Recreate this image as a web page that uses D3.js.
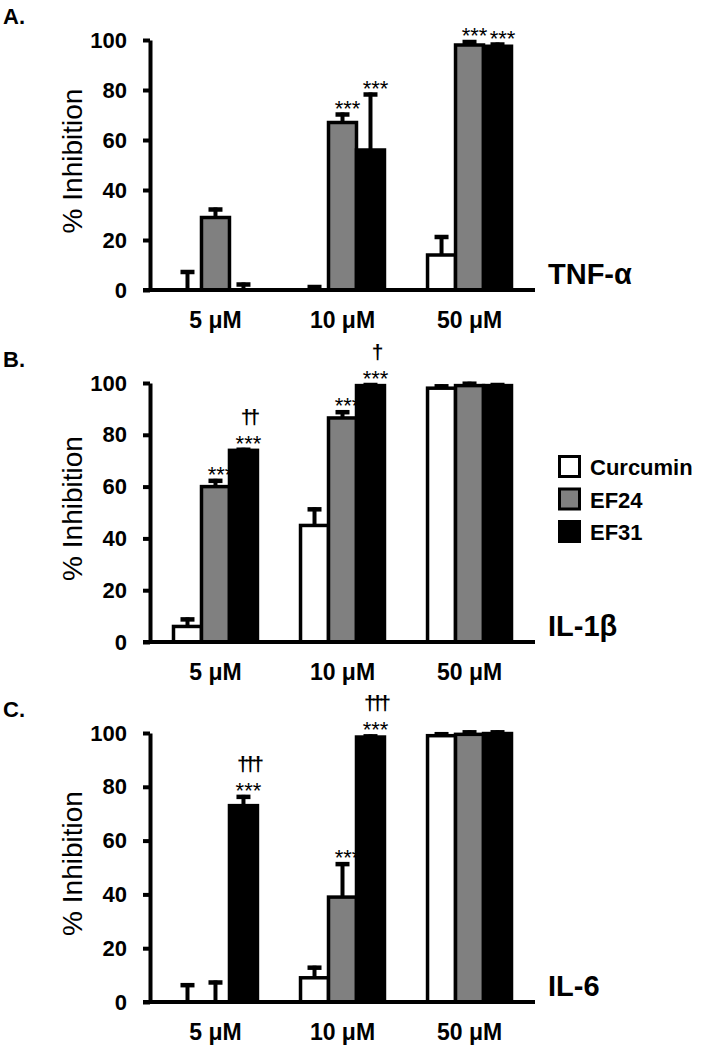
<!DOCTYPE html>
<html>
<head>
<meta charset="utf-8">
<script src="https://cdn.jsdelivr.net/npm/d3@7"></script>
<style>
  html, body { margin: 0; padding: 0; background: #fff; }
  svg { display: block; font-family: "Liberation Sans", Arial, sans-serif; }
</style>
</head>
<body>
<div id="chart"></div>
<script>
// categories
const doses = ['5 μM', '10 μM', '50 μM'];
const compounds = ['Curcumin', 'EF24', 'EF31'];
const yTicks = [0, 20, 40, 60, 80, 100];

// % inhibition, per dose: [Curcumin, EF24, EF31]
const tnfMean = [[0, 29, 0], [0, 67, 56], [14, 98, 97.5]];
const tnfErr = [[8, 4, 3], [2, 4, 23], [8, 2, 1.5]];
const il1Mean = [[6, 60, 74], [45, 86.5, 99], [98, 99, 99]];
const il1Err = [[3.5, 3, 1], [7, 3, 1], [1.5, 1.5, 1]];
const il6Mean = [[0, 0, 73], [9, 39, 98.5], [99, 99.5, 99.8]];
const il6Err = [[7, 8, 4], [4.5, 13, 1], [1.3, 1.5, 1.2]];

// significance marks: [dose, compound, stars, daggers]
const tnfMarks = [['10 μM', 'EF24', '***', ''], ['10 μM', 'EF31', '***', ''],
                  ['50 μM', 'EF24', '***', ''], ['50 μM', 'EF31', '***', '']];
const il1Marks = [['5 μM', 'EF24', '***', ''], ['5 μM', 'EF31', '***', '††'],
                  ['10 μM', 'EF24', '***', ''], ['10 μM', 'EF31', '***', '†']];
const il6Marks = [['5 μM', 'EF31', '***', '†††'], ['10 μM', 'EF24', '***', ''],
                  ['10 μM', 'EF31', '***', '†††']];

const width = 707;
const height = 1050;
const fills = { Curcumin: '#ffffff', EF24: '#808080', EF31: '#000000' };

const panels = [
  { letter: 'A.', name: 'TNF-α', mean: tnfMean, err: tnfErr, marks: tnfMarks, top: 40, bottom: 290 },
  { letter: 'B.', name: 'IL-1β', mean: il1Mean, err: il1Err, marks: il1Marks, top: 383, bottom: 642 },
  { letter: 'C.', name: 'IL-6', mean: il6Mean, err: il6Err, marks: il6Marks, top: 733, bottom: 1002 },
];

const axisLeftX = 150;
const axisRightX = 535;

const svg = d3.select('#chart')
  .append('svg')
  .attr('width', width)
  .attr('height', height)
  .attr('viewBox', `0 0 ${width} ${height}`)
  .style('background', '#fff');

const x0 = d3.scaleBand().domain(doses).range([axisLeftX, axisRightX])
  .paddingInner(0.339).paddingOuter(0.185);
const x1 = d3.scaleBand().domain(compounds).range([0, x0.bandwidth()]);

panels.forEach((p) => {
  const y = d3.scaleLinear().domain([0, 100]).range([p.bottom, p.top]);
  const g = svg.append('g');

  /* Panel letter */
  g.append('text')
    .attr('x', 3)
    .attr('y', p.top - 16)
    .attr('font-size', 22)
    .attr('font-weight', 700)
    .attr('fill', '#000')
    .text(p.letter);

  /* Y label */
  g.append('text')
    .attr('transform', `translate(82,${(p.top + p.bottom) / 2 - 4}) rotate(-90)`)
    .attr('text-anchor', 'middle')
    .attr('font-size', 28)
    .attr('fill', '#000')
    .text('% Inhibition');

  /* Significance marks (drawn first, bars overlap them) */
  p.marks.forEach(([dose, comp, stars, daggers]) => {
    const di = doses.indexOf(dose);
    const ci = compounds.indexOf(comp);
    const cx = x0(dose) + x1(comp) + x1.bandwidth() / 2 + 5;
    const base = y(Math.max(0, p.mean[di][ci]) + p.err[di][ci]) + 3;
    g.append('text')
      .attr('x', cx)
      .attr('y', base)
      .attr('text-anchor', 'middle')
      .attr('font-size', 22)
      .attr('fill', '#000')
      .text(stars);
    if (daggers) {
      g.append('text')
        .attr('x', cx)
        .attr('y', base - 27)
        .attr('text-anchor', 'middle')
        .attr('font-size', 21)
        .attr('font-weight', 700)
        .attr('letter-spacing', -4)
        .attr('fill', '#000')
        .text(daggers);
    }
  });

  /* Bars + error bars */
  doses.forEach((dose, di) => {
    compounds.forEach((comp, ci) => {
      const m = Math.max(0, p.mean[di][ci]);
      const e = p.err[di][ci];
      const bx = x0(dose) + x1(comp);
      const bw = x1.bandwidth();
      const cx = bx + bw / 2;

      g.append('line')
        .attr('x1', cx).attr('x2', cx)
        .attr('y1', y(m)).attr('y2', y(m + e))
        .attr('stroke', '#000').attr('stroke-width', 4);
      g.append('line')
        .attr('x1', cx - 7).attr('x2', cx + 7)
        .attr('y1', y(m + e) + 2).attr('y2', y(m + e) + 2)
        .attr('stroke', '#000').attr('stroke-width', 4.5);

      if (m > 0) {
        g.append('rect')
          .attr('x', bx)
          .attr('y', y(m))
          .attr('width', bw)
          .attr('height', y(0) - y(m))
          .attr('fill', fills[comp])
          .attr('stroke', '#000')
          .attr('stroke-width', 3.5);
      }
    });
  });

  /* Y axis */
  const yAxis = g.append('g')
    .attr('transform', `translate(${axisLeftX},0)`)
    .call(d3.axisLeft(y).tickValues(yTicks).tickSize(7).tickSizeOuter(0).tickPadding(16));
  yAxis.select('.domain').attr('stroke', '#000').attr('stroke-width', 4);
  yAxis.selectAll('.tick line').attr('stroke', '#000').attr('stroke-width', 4);
  yAxis.selectAll('text')
    .attr('font-size', 22)
    .attr('font-weight', 700)
    .attr('fill', '#000')
    .attr('font-family', '"Liberation Sans", Arial, sans-serif');

  /* X axis baseline */
  g.append('line')
    .attr('x1', axisLeftX - 7)
    .attr('x2', axisRightX)
    .attr('y1', y(0))
    .attr('y2', y(0))
    .attr('stroke', '#000')
    .attr('stroke-width', 4);

  /* Dose labels */
  doses.forEach((dose) => {
    g.append('text')
      .attr('x', x0(dose) + x0.bandwidth() / 2)
      .attr('y', y(0) + 38)
      .attr('text-anchor', 'middle')
      .attr('font-size', 23)
      .attr('font-weight', 700)
      .attr('fill', '#000')
      .text(dose);
  });

  /* Cytokine name */
  g.append('text')
    .attr('x', 548)
    .attr('y', y(0) - 6)
    .attr('font-size', 29)
    .attr('font-weight', 700)
    .attr('fill', '#000')
    .text(p.name);
});

/* Legend */
const legend = svg.append('g').attr('transform', 'translate(558,455)');
compounds.forEach((comp, i) => {
  const lg = legend.append('g').attr('transform', `translate(0,${i * 32.5})`);
  lg.append('rect')
    .attr('x', 1.5).attr('y', 1.5)
    .attr('width', 20).attr('height', 20)
    .attr('fill', fills[comp])
    .attr('stroke', '#000')
    .attr('stroke-width', 3);
  lg.append('text')
    .attr('x', 32)
    .attr('y', 20)
    .attr('font-size', 22)
    .attr('font-weight', 700)
    .attr('fill', '#000')
    .text(comp);
});
</script>
</body>
</html>
